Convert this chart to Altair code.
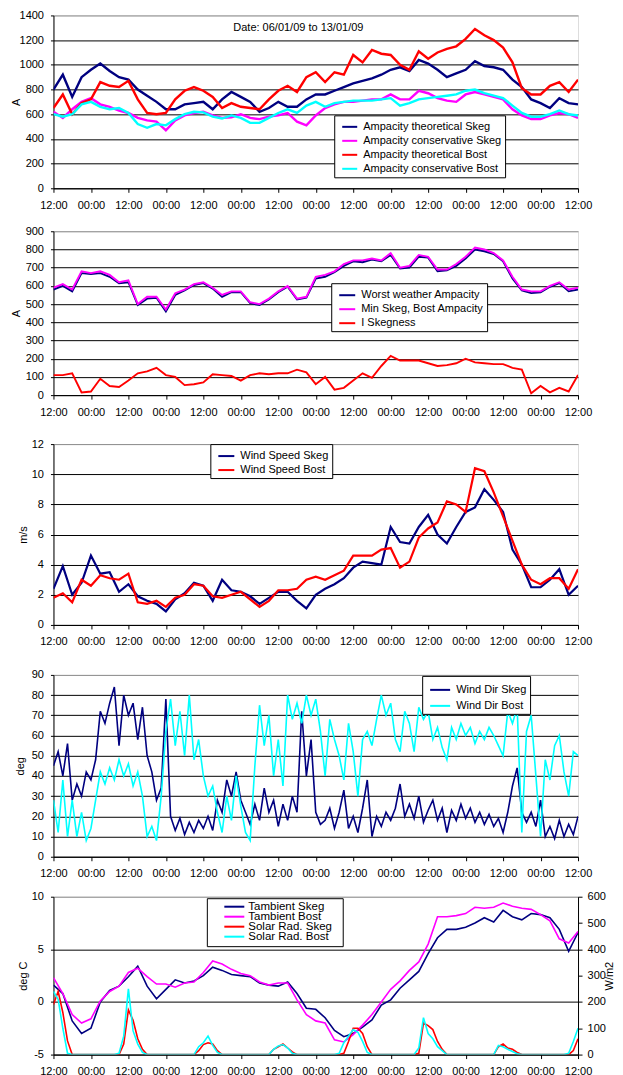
import altair as alt
import pandas as pd

FONT = "Liberation Sans"

# ---------------- time axes (hours after 12:00 06/01/09) ----------------
H3 = list(range(0, 169, 3))
H15 = [i * 1.5 for i in range(113)]
X_TICKS = list(range(0, 169, 12))

# ---------------- panel 1 : ampacity (A) ----------------
amp_th_skeg = [800, 920, 740, 900, 960, 1010, 950, 900, 880, 800, 750, 700, 640, 640, 680, 690, 700, 640, 720, 780,
               740, 700, 620, 650, 700, 660, 660, 720, 760, 760, 790, 820, 850, 870, 890, 920, 960, 980, 950, 1040,
               1010, 960, 900, 930, 960, 1030, 990, 980, 960, 880, 820, 720, 690, 650, 730, 690, 680]
amp_cons_skeg = [620, 570, 640, 700, 730, 680, 660, 630, 610, 570, 550, 540, 470, 550, 590, 610, 620, 590, 570, 575,
                 600, 570, 560, 580, 590, 610, 540, 510, 590, 650, 680, 700, 700, 710, 720, 720, 760, 720, 720, 790,
                 770, 730, 710, 700, 760, 780, 760, 740, 720, 640, 590, 560, 560, 590, 610, 600, 570]
amp_th_bost = [650, 760, 600, 690, 720, 860, 830, 820, 870, 720, 610, 600, 610, 720, 790, 820, 790, 740, 650, 690,
               660, 650, 640, 720, 790, 830, 780, 900, 940, 860, 940, 920, 1080, 1020, 1120, 1090, 1080, 1000, 960,
               1110, 1050, 1100, 1130, 1150, 1210, 1290, 1240, 1200, 1140, 1020, 810, 760, 760, 830, 860, 780, 880]
amp_cons_bost = [600, 580, 600, 680, 700, 660, 640, 650, 610, 520, 490, 520, 510, 560, 600, 620, 615, 580, 565, 590,
                 570, 530, 530, 570, 610, 640, 610, 670, 700, 660, 690, 700, 710, 710, 710, 720, 730, 670, 690, 720,
                 730, 740, 750, 760, 790, 800, 770, 750, 730, 670, 610, 580, 580, 600, 630, 600, 590]

# ---------------- panel 2 : worst weather ampacity (A) ----------------
worst_amp = [580, 600, 570, 670, 665, 670, 650, 615, 620, 495, 530, 535, 460, 550, 575, 605, 615, 585, 540, 565,
             565, 505, 495, 525, 565, 595, 525, 535, 640, 650, 675, 710, 735, 730, 745, 735, 770, 695, 700, 760,
             755, 680, 685, 710, 750, 800, 790, 775, 735, 640, 575, 560, 565, 595, 615, 570, 580]
min_amp = [590, 610, 580, 680, 670, 680, 660, 620, 630, 500, 540, 540, 470, 560, 580, 610, 620, 590, 550, 570,
           570, 510, 500, 530, 570, 600, 530, 540, 650, 660, 680, 720, 740, 740, 750, 740, 780, 700, 710, 770,
           760, 690, 690, 720, 760, 810, 800, 780, 740, 650, 580, 570, 570, 600, 620, 580, 590]
i_skeg = [110, 110, 120, 15, 20, 90, 50, 45, 80, 120, 130, 150, 110, 100, 55, 60, 70, 115, 110, 105,
          80, 110, 120, 115, 120, 120, 140, 125, 60, 100, 30, 40, 80, 120, 95, 160, 215, 190, 190, 190,
          175, 160, 165, 175, 200, 180, 175, 170, 170, 150, 140, 10, 50, 15, 40, 20, 110]

# ---------------- panel 3 : wind speed (m/s) ----------------
ws_skeg = [2.4, 3.9, 2.0, 2.8, 4.6, 3.4, 3.5, 2.2, 2.7, 1.9, 1.6, 1.4, 0.9, 1.7, 2.1, 2.8, 2.6, 1.6, 3.0, 2.3,
           2.2, 1.9, 1.4, 1.8, 2.2, 2.2, 1.6, 1.1, 2.0, 2.4, 2.7, 3.1, 3.8, 4.2, 4.1, 4.0, 6.5, 5.5, 5.4, 6.5,
           7.3, 6.0, 5.4, 6.5, 7.5, 7.8, 9.0, 8.3, 7.5, 5.0, 4.0, 2.5, 2.5, 3.0, 3.7, 2.0, 2.6]
ws_bost = [1.8, 2.1, 1.5, 3.0, 2.6, 3.3, 3.1, 3.0, 3.4, 1.5, 1.4, 1.6, 1.2, 1.8, 2.0, 2.7, 2.6, 1.9, 1.8, 2.0,
           2.2, 1.7, 1.2, 1.6, 2.3, 2.3, 2.4, 3.0, 3.2, 3.0, 3.3, 3.6, 4.6, 4.6, 4.6, 5.0, 5.1, 3.8, 4.2, 5.8,
           6.4, 6.8, 8.2, 8.0, 7.5, 10.4, 10.2, 8.8, 7.2, 5.6, 4.0, 3.0, 2.7, 3.1, 3.1, 2.4, 3.7]

# ---------------- panel 4 : wind direction (deg), 1.5 h steps ----------------
wd_skeg = [45, 52, 40, 56, 28, 36, 30, 42, 38, 48, 72, 66, 76, 84, 55, 80, 70, 76, 58, 74,
           50, 42, 28, 34, 78, 20, 13, 19, 11, 17, 12, 18, 14, 20, 13, 28, 22, 38, 30, 42,
           28, 22, 16, 26, 18, 34, 22, 28, 15, 26, 18, 30, 22, 72, 40, 58, 22, 16,
           18, 24, 14, 22, 33, 14, 20, 12, 24, 38, 10, 20, 15, 22, 18, 24, 36, 20, 26, 19,
           30, 17, 23, 28, 18, 24, 12, 23, 18, 26, 19, 24, 17, 22, 16, 21, 15, 19, 12, 22,
           35, 44, 22, 17, 22, 15, 28, 10, 15, 9, 18, 10, 16, 11, 20]
wd_bost = [28, 12, 38, 10, 28, 10, 22, 8, 14, 28, 42, 36, 44, 38, 48, 40, 46, 35, 42, 30,
           10, 15, 8, 30, 62, 78, 55, 72, 50, 80, 48, 58, 40, 30, 35, 22, 12, 30, 18, 40,
           25, 12, 8, 45, 75, 55, 70, 40, 58, 35, 80, 68, 76, 66, 80, 70, 78, 62,
           40, 68, 58, 50, 38, 66, 52, 30, 58, 62, 55, 68, 80, 70, 76, 58, 52, 72, 66, 52,
           74, 68, 72, 58, 64, 54, 48, 64, 58, 66, 60, 64, 56, 62, 58, 64, 60, 55, 50, 72,
           66, 74, 12, 62, 70, 40, 10, 48, 38, 55, 60, 42, 30, 52, 50]

# ---------------- panel 5 : ambient temperature (deg C) and solar radiation (W/m2) ----------------
t_skeg = [1.6, 0.8, -1.8, -3.0, -2.5, 0.0, 1.1, 1.5, 2.4, 3.4, 1.5, 0.3, 1.2, 2.1, 1.8, 2.0, 2.5, 3.3, 3.0, 2.6,
          2.5, 2.4, 1.8, 1.6, 1.5, 1.9, 0.8, -0.6, -0.7, -1.5, -2.7, -3.3, -3.0, -2.4, -1.7, -0.3, 0.2, 1.3,
          2.1, 2.9, 4.6, 6.1, 6.9, 6.9, 7.1, 7.5, 8.0, 7.6, 8.7, 8.1, 7.8, 8.4, 8.3, 8.0, 6.9, 4.8, 6.6]
t_bost = [2.3, 0.8, -1.2, -2.0, -1.6, 0.1, 1.0, 1.5, 2.8, 3.2, 2.4, 1.7, 1.7, 1.4, 1.8, 1.9, 2.8, 3.9, 3.6, 3.1,
          2.7, 2.5, 1.9, 1.6, 1.8, 1.8, 0.2, -1.2, -1.8, -2.0, -3.6, -3.8, -3.1, -2.2, -1.2, 0.0, 1.2, 2.0,
          3.0, 3.8, 5.5, 8.1, 8.1, 8.2, 8.4, 9.0, 8.9, 9.0, 9.4, 9.1, 8.9, 8.8, 8.3, 7.7, 6.0, 5.6, 6.7]
sr_skeg = [190, 240, 160, 52, 0, 0, 0, 0, 0, 0,
           0, 0, 0, 0, 0, 40, 170, 130, 60, 20,
           0, 0, 0, 0, 0, 0, 0, 0, 0, 0,
           0, 15, 38, 45, 40, 15, 0, 0, 0, 0,
           0, 0, 0, 0, 0, 0, 0, 20, 30, 40,
           25, 10, 0, 0, 0, 0, 0, 0, 0, 0,
           0, 0, 5, 50, 100, 100, 80, 30, 0, 0,
           0, 0, 0, 0, 0, 0, 0, 0, 5, 120,
           110, 95, 50, 20, 0, 0, 0, 0, 0, 0,
           0, 0, 0, 0, 0, 30, 40, 25, 20, 8,
           0, 0, 0, 0, 0, 0, 0, 0, 0, 0,
           0, 15, 60]
sr_bost = [240, 210, 100, 5, 0, 0, 0, 0, 0, 0,
           0, 0, 0, 0, 5, 70, 250, 90, 40, 8,
           0, 0, 0, 0, 0, 0, 0, 0, 0, 0,
           0, 30, 45, 70, 35, 8, 0, 0, 0, 0,
           0, 0, 0, 0, 0, 0, 0, 20, 33, 38,
           25, 5, 0, 0, 0, 0, 0, 0, 0, 0,
           0, 5, 45, 70, 95, 85, 50, 8, 0, 0,
           0, 0, 0, 0, 0, 0, 0, 0, 25, 140,
           80, 60, 30, 15, 0, 0, 0, 0, 0, 0,
           0, 0, 0, 0, 0, 35, 30, 20, 12, 3,
           0, 0, 0, 0, 0, 0, 0, 0, 0, 0,
           5, 50, 100]

DATE_LABEL = "Date: 06/01/09 to 13/01/09"

NAVY, MAG, RED, CYAN = "#000080", "#FF00FF", "#FF0000", "#00FFFF"
W = 525

xaxis = alt.Axis(values=X_TICKS, labelExpr="datum.value % 24 == 0 ? '12:00' : '00:00'",
                 grid=False, tickSize=4, tickColor="black", domainColor="black",
                 labelPadding=7, labelFontSize=11, labelColor="black", labelFont=FONT,
                 labelFlush=False, labelOverlap=False, title=None)
xenc = alt.X("h:Q", scale=alt.Scale(domain=[0, 168], nice=False, zero=False), axis=xaxis)


def yaxis(values, top, title, tx, grid=True):
    kw = dict(values=values, title=title, titleX=tx, titleBaseline="middle", tickSize=3,
              labelPadding=7, labelExpr="datum.value + ''",
              labelFontSize=11, labelFont=FONT, labelColor="black", tickColor="black",
              domainColor="black", titleFont=FONT, titleFontSize=11, titleFontWeight="normal",
              titleColor="black", grid=grid, orient="left")
    if grid:
        kw["gridColor"] = {"condition": {"test": f"datum.value >= {top}", "value": "#8c8c8c"},
                           "value": "black"}
        kw["gridWidth"] = 1
    return alt.Axis(**kw)


def legend(x, y, size, rowpad, pad=3, soff=4):
    return alt.Legend(orient="none", legendX=x, legendY=y, title=None, strokeColor="black",
                      fillColor="white", symbolType="stroke", symbolStrokeWidth=2,
                      symbolSize=size, rowPadding=rowpad, padding=pad, symbolOffset=soff,
                      labelFont=FONT, labelFontSize=11, labelColor="black", labelOffset=5)


def line_layers(names, colors, xs, series, ydom, yax, leg, sw):
    out = []
    for n, vals in zip(names, series):
        df = pd.DataFrame({"h": xs, "val": vals, "series": n})
        out.append(alt.Chart(df).mark_line(strokeWidth=sw, clip=True).encode(
            x=xenc,
            y=alt.Y("val:Q", scale=alt.Scale(domain=ydom, nice=False, zero=False), axis=yax),
            color=alt.Color("series:N", scale=alt.Scale(domain=names, range=colors), legend=leg),
        ))
    return out


# ---- panel 1
n1 = ["Ampacity theoretical Skeg", "Ampacity conservative Skeg",
      "Ampacity theoretical Bost", "Ampacity conservative Bost"]
p1_layers = line_layers(n1, [NAVY, MAG, RED, CYAN], H3,
                        [amp_th_skeg, amp_cons_skeg, amp_th_bost, amp_cons_bost],
                        [0, 1400], yaxis(list(range(0, 1401, 200)), 1400, "A", -37),
                        legend(281, 100, 225, -3), 2.4)
date_text = alt.Chart(pd.DataFrame({"t": [DATE_LABEL]})).mark_text(
    align="left", baseline="middle", font=FONT, fontSize=11, color="black"
).encode(text="t:N", x=alt.value(180), y=alt.value(13))
p1 = alt.layer(*p1_layers, date_text).properties(width=W, height=173)

# ---- panel 2
n2 = ["Worst weather Ampacity", "Min Skeg, Bost Ampacity", "I Skegness"]
p2 = alt.layer(*line_layers(n2, [NAVY, MAG, RED], H3, [worst_amp, min_amp, i_skeg],
                            [0, 900], yaxis(list(range(0, 901, 100)), 900, "A", -37),
                            legend(278, 52, 256, -1.5), 1.9)).properties(
    width=W, height=164, title=alt.TitleParams(" ", fontSize=1, offset=2))

# ---- panel 3
n3 = ["Wind Speed Skeg", "Wind Speed Bost"]
p3 = alt.layer(*line_layers(n3, [NAVY, RED], H3, [ws_skeg, ws_bost],
                            [0, 12], yaxis(list(range(0, 13, 2)), 12, "m/s", -30),
                            legend(157, 0, 256, 0), 2.2)).properties(
    width=W, height=181, title=alt.TitleParams(" ", fontSize=1, offset=8))

# ---- panel 4
n4 = ["Wind Dir Skeg", "Wind Dir Bost"]
p4 = alt.layer(*line_layers(n4, [NAVY, CYAN], H15, [wd_skeg, wd_bost],
                            [0, 90], yaxis(list(range(0, 91, 10)), 90, "deg", -33),
                            legend(369, 1, 400, -4), 1.6)).properties(
    width=W, height=182, title=alt.TitleParams(" ", fontSize=1, offset=9))

# ---- panel 5
n5 = ["Tambient Skeg", "Tambient Bost", "Solar Rad. Skeg", "Solar Rad. Bost"]
c5 = [NAVY, MAG, RED, CYAN]
temp_layers = line_layers(n5, c5, H3, [t_skeg, t_bost], [-5, 10],
                          yaxis([-5, 0, 5, 10], 10, "deg C", -30), None, 1.6)
solar_layers = []
for n, vals in zip(n5[2:], [sr_skeg, sr_bost]):
    df = pd.DataFrame({"h": H15, "val": vals, "series": n})
    solar_layers.append(alt.Chart(df).mark_line(strokeWidth=1.6, clip=True).encode(
        x=xenc,
        y=alt.Y("val:Q", scale=alt.Scale(domain=[0, 600], nice=False, zero=False),
                axis=alt.Axis(values=list(range(0, 601, 100)), title="W/m2", orient="right",
                              grid=False, tickSize=4, labelPadding=5, labelFontSize=11,
                              labelFont=FONT, labelColor="black", tickColor="black",
                              domainColor="black", titleFont=FONT, titleFontSize=11,
                              titleFontWeight="normal", titleColor="black",
                              titleX=31, titleBaseline="middle", titleAngle=270)),
        color=alt.Color("series:N", scale=alt.Scale(domain=n5, range=c5), legend=None),
    ))

# manual legend for the bottom panel (tight rows as in the original)
LEG5_Y = [10, 20, 30, 40]
leg5_box = alt.Chart(pd.DataFrame({"k": [0]})).mark_rect(
    fill="white", stroke="black", strokeWidth=1
).encode(x=alt.value(154), x2=alt.value(290), y=alt.value(2), y2=alt.value(50))
leg5_items = [leg5_box]
for name, col, yy in zip(n5, c5, LEG5_Y):
    leg5_items.append(alt.Chart(pd.DataFrame({"t": [name]})).mark_rule(
        color=col, strokeWidth=2).encode(x=alt.value(171), x2=alt.value(191), y=alt.value(yy)))
    leg5_items.append(alt.Chart(pd.DataFrame({"t": [name]})).mark_text(
        align="left", baseline="middle", font=FONT, fontSize=11.5, color="black"
    ).encode(text="t:N", x=alt.value(195), y=alt.value(yy)))

p5 = alt.layer(alt.layer(*temp_layers), alt.layer(*solar_layers), *leg5_items).resolve_scale(
    y="independent").properties(width=W, height=158)

chart = alt.vconcat(p1, p2, p3, p4, p5, spacing=10).resolve_scale(
    color="independent"
).properties(
    padding={"left": 1.5, "top": 0, "right": 0, "bottom": 0}
).configure_view(stroke="#8c8c8c", strokeWidth=1).configure(font=FONT)

chart.save("out.html", embed_options={"renderer": "svg", "actions": False})
